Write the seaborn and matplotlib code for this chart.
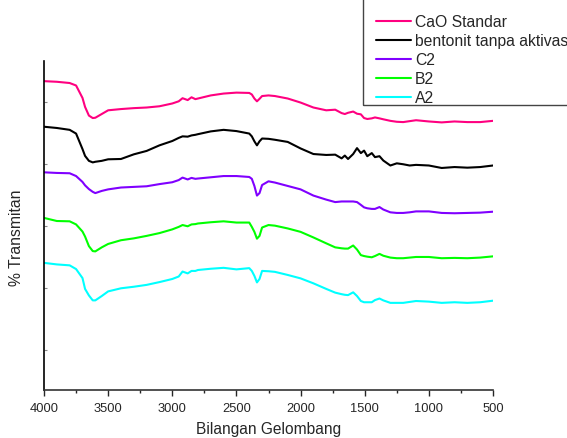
import matplotlib
matplotlib.use("Agg")
import matplotlib.pyplot as plt
from matplotlib.patches import Rectangle
from matplotlib.ticker import MultipleLocator
import seaborn as sns
import pandas as pd

# wavenumber grid (cm-1) shared by all spectra
wavenumber = [4000, 3900, 3800, 3750, 3700, 3680, 3650, 3620, 3600, 3550,
              3500, 3400, 3300, 3200, 3100, 3000, 2950, 2920, 2880, 2850,
              2820, 2800, 2700, 2600, 2500, 2400, 2380, 2360, 2340, 2320,
              2300, 2250, 2200, 2100, 2000, 1900, 1800, 1730, 1680, 1655,
              1630, 1590, 1560, 1530, 1505, 1480, 1445, 1420, 1385, 1355,
              1300, 1250, 1200, 1150, 1100, 1000, 900, 800, 700, 600, 500]

# % transmittance (stacked / offset spectra)
cao_standar = [86.7, 86.5, 86.1, 85.3, 81.3, 78.4, 75.6, 74.8, 74.9, 76.1,
               77.3, 77.7, 78.0, 78.2, 78.6, 79.5, 80.2, 81.2, 80.6, 81.5,
               80.9, 81.1, 82.1, 82.7, 83.0, 82.9, 82.4, 81.1, 80.2, 81.0,
               81.9, 82.1, 81.9, 81.1, 79.8, 78.2, 77.3, 77.5, 76.4, 76.1,
               76.5, 76.9, 76.2, 76.0, 74.8, 74.5, 74.7, 75.0, 74.7, 74.4,
               73.9, 73.6, 73.5, 73.8, 74.1, 73.7, 73.4, 73.7, 73.5, 73.5, 73.9]
bentonit = [72.0, 71.6, 71.0, 69.8, 64.8, 62.6, 61.0, 60.5, 60.7, 61.0,
            61.5, 61.6, 63.1, 64.2, 66.0, 67.4, 68.4, 68.9, 68.8, 69.2,
            69.4, 69.6, 70.5, 71.0, 70.6, 69.8, 68.9, 67.3, 66.0, 67.3,
            68.2, 68.1, 67.8, 67.1, 65.0, 63.2, 62.9, 63.0, 61.8, 62.7,
            61.6, 63.2, 65.1, 63.5, 64.3, 62.5, 63.5, 62.2, 62.5, 61.1,
            59.5, 60.2, 59.9, 59.5, 59.7, 59.5, 58.7, 59.0, 58.8, 59.0, 59.5]
c2 = [57.3, 57.1, 57.0, 56.1, 54.2, 53.1, 51.9, 51.0, 50.6, 51.3,
      51.8, 52.4, 52.6, 52.8, 53.5, 54.1, 54.8, 55.6, 55.0, 55.5,
      55.2, 55.3, 55.7, 56.1, 56.1, 55.8, 55.2, 52.9, 49.8, 50.6,
      53.2, 54.4, 54.0, 52.9, 51.8, 49.8, 48.5, 47.7, 47.9, 47.9,
      47.9, 47.9, 47.7, 46.8, 46.0, 45.7, 45.5, 45.5, 46.1, 45.3,
      44.4, 44.2, 44.2, 44.4, 44.7, 44.7, 44.2, 44.1, 44.2, 44.3, 44.6]
b2 = [42.6, 41.6, 41.5, 40.5, 38.2, 36.6, 33.5, 31.9, 31.8, 33.1,
      34.2, 35.4, 36.0, 36.8, 37.7, 38.9, 39.7, 40.3, 39.9, 40.5,
      40.6, 40.8, 41.2, 41.5, 41.1, 41.1, 39.7, 38.1, 35.9, 36.8,
      39.5, 40.3, 40.1, 39.2, 38.1, 36.3, 34.4, 33.1, 32.8, 32.7,
      32.7, 33.7, 32.4, 30.6, 30.3, 30.1, 29.9, 30.3, 31.0, 30.4,
      29.8, 29.6, 29.6, 29.8, 30.0, 30.0, 29.6, 29.7, 29.6, 29.8, 30.2]
a2 = [28.1, 27.6, 27.3, 26.1, 23.2, 19.7, 17.6, 16.0, 16.0, 17.4,
      18.9, 19.9, 20.4, 21.0, 21.9, 22.9, 23.7, 25.3, 24.7, 25.5,
      25.5, 25.8, 26.2, 26.5, 26.0, 26.4, 25.5, 23.9, 21.8, 22.9,
      25.5, 25.4, 25.2, 24.2, 23.1, 21.5, 19.7, 18.5, 18.0, 17.8,
      17.7, 18.6, 17.4, 15.8, 15.4, 15.4, 15.4, 16.1, 16.6, 16.0,
      15.2, 15.2, 15.2, 15.5, 15.8, 15.6, 15.2, 15.4, 15.2, 15.4, 15.9]

labels = ["CaO Standar", "bentonit tanpa aktivas", "C2", "B2", "A2"]
colors = ["#FF0080", "#000000", "#8000FF", "#00FF00", "#00FFFF"]

frames = []
for lab, vals in zip(labels, [cao_standar, bentonit, c2, b2, a2]):
    frames.append(pd.DataFrame({"wn": wavenumber, "T": vals, "sample": lab}))
df = pd.concat(frames, ignore_index=True)

sns.set_style("ticks")
plt.rcParams["font.family"] = ["Liberation Sans", "DejaVu Sans"]

W, H = 567, 439
fig = plt.figure(figsize=(W / 100, H / 100), dpi=100)
ax = fig.add_axes([44 / W, 1 - 391 / H, 449 / W, 329 / H])

sns.lineplot(data=df, x="wn", y="T", hue="sample", hue_order=labels,
             palette=dict(zip(labels, colors)), estimator=None, sort=True,
             linewidth=1.5, ax=ax)

ax.set_xlim(4000, 500)
ax.set_ylim(-12.9, 93.2)
ax.xaxis.set_major_locator(MultipleLocator(500))
ax.xaxis.set_minor_locator(MultipleLocator(250))
ax.set_yticks([0, 20, 40, 60, 80])
ax.set_yticklabels([])
ax.tick_params(axis="x", which="major", direction="out", length=4, width=1,
               labelsize=9.3, pad=5)
ax.tick_params(axis="x", which="minor", direction="out", length=2.5, width=1)
ax.tick_params(axis="y", direction="in", length=2, width=0.8, colors="#888888")
for side in ["top", "right"]:
    ax.spines[side].set_visible(False)
ax.spines["left"].set_linewidth(1.2)
ax.spines["left"].set_color("black")
ax.spines["bottom"].set_linewidth(1.2)
ax.spines["bottom"].set_color("#333333")

ax.set_xlabel("Bilangan Gelombang", fontsize=11.2, labelpad=4.5)
ax.set_ylabel("% Transmitan", fontsize=11.3)
ax.yaxis.set_label_coords(-0.045, 0.467)

# legend box runs off the top and right edge of the figure
fig.patches.append(Rectangle((363 / W, 1 - 106 / H), 1, 1,
                             transform=fig.transFigure, fill=False,
                             edgecolor="#444444", linewidth=1.0))
handles, lbls = ax.get_legend_handles_labels()
leg = ax.legend(handles, lbls, loc="upper left",
                bbox_to_anchor=(376 / W, 1 - 15 / H),
                bbox_transform=fig.transFigure, fontsize=11.3, frameon=False,
                handlelength=2.2, handletextpad=0.3, labelspacing=0.26,
                borderpad=0, borderaxespad=0)

fig.savefig("out.png", dpi=100)
